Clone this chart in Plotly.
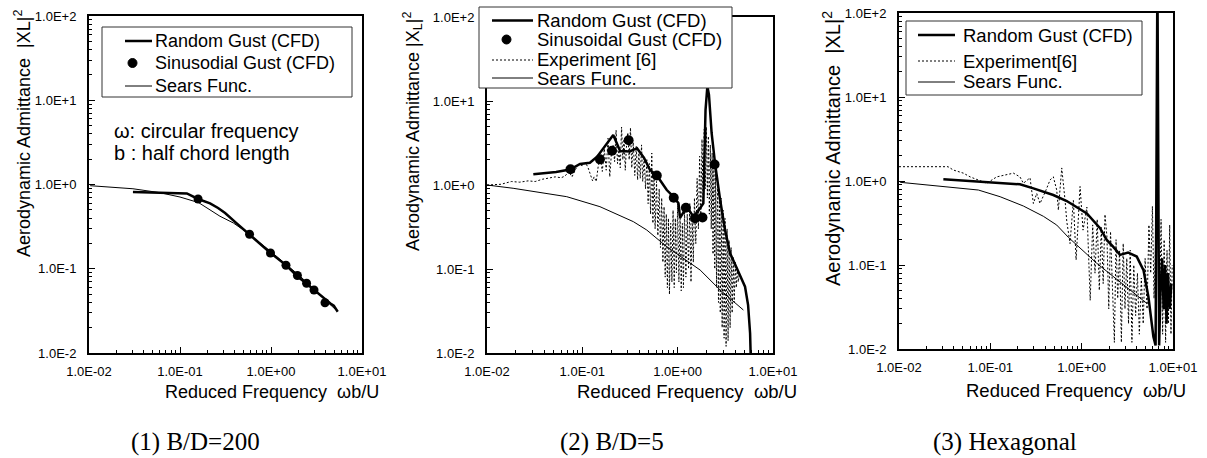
import plotly.graph_objects as go

W, H = 1207, 458

# ---------------- data ----------------
# Panel 1: B/D=200
p1_random_x = [0.0304, 0.0603, 0.119, 0.158, 0.214, 0.262, 0.313, 0.420, 0.573, 0.757, 0.975,
               1.48, 1.93, 2.43, 2.97, 3.73, 4.45, 4.60, 4.90, 5.10, 5.41]
p1_random_y = [0.815, 0.803, 0.782, 0.673, 0.598, 0.526, 0.459, 0.346, 0.258, 0.202, 0.156,
               0.109, 0.082, 0.0672, 0.056, 0.045, 0.0393, 0.038, 0.0365, 0.034, 0.0309]
p1_sinus_x = [0.158, 0.581, 0.987, 1.46, 1.95, 2.46, 2.97, 3.92]
p1_sinus_y = [0.673, 0.257, 0.154, 0.110, 0.0832, 0.0672, 0.056, 0.0395]
p1_sears_x = [0.0103, 0.0304, 0.060, 0.100, 0.160, 0.275, 0.385, 0.518, 0.975, 2.08, 5.3]
p1_sears_y = [0.968, 0.89, 0.80, 0.71, 0.61, 0.42, 0.35, 0.28, 0.163, 0.082, 0.0316]

# Panel 2: B/D=5
p2_random_x = [0.0306, 0.0530, 0.0743, 0.0946, 0.120, 0.143, 0.211, 0.249, 0.316, 0.375, 0.444,
               0.513, 0.604, 0.769, 0.902, 1.02, 1.06, 1.25, 1.46, 1.64, 1.86, 1.96, 2.05,
               2.13, 2.27, 2.47, 2.79, 3.14, 3.55, 4.00, 4.52, 5.09, 5.48, 5.75, 5.95]
p2_random_y = [1.34, 1.43, 1.53, 1.78, 1.84, 2.17, 3.94, 2.54, 2.51, 2.74, 2.10,
               1.51, 1.30, 0.871, 0.726, 0.605, 0.405, 0.552, 0.420, 0.490, 0.605, 7.8, 15.0,
               11.8, 4.16, 1.78, 0.663, 0.291, 0.154, 0.112, 0.081, 0.0615, 0.0372, 0.0172, 0.004]
p2_sinus_x = [0.0751, 0.153, 0.205, 0.306, 0.604, 0.910, 1.22, 1.52, 1.82, 2.44]
p2_sinus_y = [1.54, 2.02, 2.56, 3.41, 1.30, 0.706, 0.537, 0.402, 0.410, 1.75]
p2_exp_x = [0.010, 0.014, 0.018, 0.022, 0.027, 0.032, 0.038, 0.045, 0.052, 0.060, 0.066, 0.072,
            0.078, 0.085, 0.092, 0.100, 0.108, 0.115, 0.122, 0.128, 0.133, 0.140, 0.147, 0.155,
            0.162, 0.170, 0.178, 0.186, 0.194, 0.202, 0.210, 0.218, 0.226, 0.234, 0.242, 0.250,
            0.258, 0.266, 0.274, 0.282, 0.290, 0.300, 0.310, 0.320, 0.330, 0.342, 0.355, 0.368,
            0.380, 0.392, 0.405, 0.418, 0.430, 0.445, 0.460, 0.475, 0.490, 0.505, 0.520, 0.535,
            0.550, 0.565, 0.580, 0.600, 0.620, 0.640, 0.660, 0.680, 0.700, 0.720, 0.740, 0.760,
            0.780, 0.800, 0.820, 0.845, 0.870, 0.895, 0.920, 0.945, 0.970, 1.000, 1.03, 1.06,
            1.09, 1.12, 1.15, 1.18, 1.22, 1.26, 1.30, 1.34, 1.38, 1.42, 1.46, 1.50, 1.55, 1.60,
            1.65, 1.70, 1.75, 1.80, 1.85, 1.90, 1.95, 2.00, 2.05, 2.10, 2.15, 2.20, 2.25, 2.30,
            2.35, 2.40, 2.45, 2.50, 2.56, 2.62, 2.68, 2.74, 2.80, 2.86, 2.93, 3.00, 3.07, 3.14,
            3.22, 3.30, 3.38, 3.46, 3.55, 3.64, 3.73, 3.82, 3.92, 4.02, 4.12, 4.22, 4.32, 4.45]
p2_exp_y = [1.00, 1.02, 1.10, 1.08, 1.12, 1.10, 1.17, 1.22, 1.25, 1.22, 1.28, 1.45,
            1.25, 1.55, 1.75, 1.70, 1.85, 1.60, 1.30, 1.12, 1.25, 1.10, 1.70, 2.10,
            1.45, 2.70, 1.50, 3.60, 1.25, 2.40, 3.00, 1.90, 4.50, 1.80, 2.60, 1.60,
            4.90, 2.00, 3.50, 1.50, 2.80, 4.20, 2.00, 4.80, 1.60, 3.20, 1.30, 2.90,
            1.15, 2.40, 1.20, 3.00, 1.10, 2.20, 0.90, 2.00, 0.60, 1.80, 0.45, 2.40,
            0.35, 1.40, 0.30, 1.10, 0.25, 0.90, 0.18, 0.70, 0.12, 0.55, 0.08, 0.45,
            0.06, 0.40, 0.05, 0.35, 0.07, 0.50, 0.06, 0.40, 0.09, 0.60, 0.07, 0.45,
            0.055, 0.35, 0.06, 0.50, 0.08, 0.45, 0.10, 0.60, 0.07, 0.40, 0.12, 0.70, 0.20, 1.20,
            0.30, 2.20, 0.40, 3.50, 0.60, 4.60, 0.90, 4.90, 0.70, 3.80, 0.45, 3.00, 0.30, 2.40,
            0.15, 2.00, 0.10, 1.60, 0.06, 1.20, 0.04, 0.90, 0.03, 0.70, 0.02, 0.50, 0.015, 0.40,
            0.012, 0.30, 0.014, 0.22, 0.02, 0.18, 0.03, 0.14, 0.04, 0.12, 0.06, 0.10, 0.07, 0.09]
p2_sears_x = [0.01, 0.0188, 0.0686, 0.153, 0.343, 0.474, 0.769, 1.72, 2.79, 4.89]
p2_sears_y = [1.0, 0.914, 0.726, 0.552, 0.366, 0.291, 0.184, 0.0973, 0.0562, 0.0325]

# Panel 3: Hexagonal
p3_random_x = [0.0306, 0.071, 0.128, 0.211, 0.296, 0.489, 0.687, 1.14, 1.59, 1.88, 2.22, 2.63,
               3.22, 4.01, 4.75, 5.38, 6.10, 6.45, 6.75, 7.05, 7.3, 7.6, 7.9, 8.2, 8.5, 8.8,
               9.2, 9.6]
p3_random_y = [1.05, 0.98, 0.933, 0.914, 0.818, 0.681, 0.578, 0.412, 0.274, 0.199, 0.164, 0.132,
               0.141, 0.126, 0.087, 0.042, 0.014, 0.011, 300.0, 0.011, 0.05, 0.12, 0.03, 0.10,
               0.02, 0.08, 0.03, 0.06]
p3_exp_x = [0.010, 0.020, 0.0344, 0.0394, 0.0507, 0.060, 0.0914, 0.1175, 0.150, 0.179, 0.211,
            0.230, 0.272, 0.296, 0.322, 0.350, 0.407, 0.451, 0.490, 0.533, 0.556, 0.605, 0.658,
            0.687, 0.746, 0.811, 0.869, 0.960, 1.035, 1.14, 1.24, 1.32, 1.40, 1.48, 1.56, 1.64,
            1.72, 1.80, 1.89, 1.98, 2.07, 2.17, 2.28, 2.38, 2.48, 2.60, 2.72, 2.85, 2.98, 3.12,
            3.26, 3.40, 3.55, 3.72, 3.90, 4.08, 4.28, 4.50, 4.72, 4.95, 5.20, 5.45, 5.70, 5.95,
            6.20, 6.50, 6.80, 7.10, 7.40, 7.70, 8.00, 8.30, 8.60, 8.90, 9.20, 9.50, 9.80]
p3_exp_y = [1.48, 1.48, 1.48, 1.35, 1.24, 1.12, 0.94, 1.12, 1.18, 1.24, 1.12,
            0.94, 1.09, 0.54, 0.71, 0.54, 0.78, 1.03, 1.12, 0.78, 0.45, 1.43, 0.59,
            0.33, 0.18, 0.59, 0.115, 0.86, 0.26, 0.49, 0.038, 0.30, 0.08, 0.35, 0.05, 0.28,
            0.06, 0.40, 0.22, 0.03, 0.25, 0.05, 0.012, 0.20, 0.04, 0.15, 0.012, 0.18, 0.03, 0.12,
            0.02, 0.15, 0.012, 0.10, 0.025, 0.08, 0.015, 0.07, 0.02, 0.12, 0.03, 0.30, 0.08, 0.50,
            0.04, 0.25, 0.60, 0.02, 0.35, 0.015, 0.20, 0.012, 0.15, 0.02, 0.30, 0.015, 0.10]
p3_sears_x = [0.0103, 0.0306, 0.074, 0.128, 0.230, 0.381, 0.533, 0.714, 1.46, 5.16]
p3_sears_y = [0.965, 0.855, 0.781, 0.65, 0.504, 0.38, 0.299, 0.214, 0.105, 0.035]

# tick label text (log-axis decades)
x_tick_alias = {"1.0e-2": "1.0E-02", "1.0e-1": "1.0E-01", "1.0e+0": "1.0E+00",
                "1.0e+1": "1.0E+01"}
y_tick_alias = {"1.0e-2": "1.0E-2", "1.0e-1": "1.0E-1", "1.0e+0": "1.0E+0",
                "1.0e+1": "1.0E+1", "1.0e+2": "1.0E+2"}

SANS = "Liberation Sans, Arial, sans-serif"
SERIF = "Liberation Serif, Times New Roman, serif"


def pxx(x):
    return x / W


def pyy(y):
    return 1 - y / H


def with_minus_variants(alias):
    out = dict(alias)
    for k, v in alias.items():
        out[k.replace("-", "\u2212")] = v
    return out


def axis(domain, anchor, rng, alias, standoff):
    return dict(type="log", range=rng, domain=domain, anchor=anchor, automargin=False,
                showgrid=False, zeroline=False, showline=True, linecolor="black",
                linewidth=2, mirror=True, ticks="inside", ticklen=6, tickwidth=1,
                tickcolor="black", tickmode="linear", tick0=0, dtick=1,
                layer="above traces", tickformat=".1e",
                labelalias=with_minus_variants(alias), ticklabelstandoff=standoff,
                tickfont=dict(family=SANS, size=13, color="black"),
                minor=dict(ticks="inside", ticklen=3, tickwidth=1, tickcolor="black",
                           dtick="D1", showgrid=False))


fig = go.Figure()

thick = dict(color="black", width=2.5)
thin = dict(color="black", width=1)
dotted = dict(color="black", width=1, dash="2px,2px")

# Panel 1
fig.add_trace(go.Scatter(x=p1_random_x, y=p1_random_y, mode="lines", line=thick,
                         name="Random Gust (CFD)", xaxis="x", yaxis="y"))
fig.add_trace(go.Scatter(x=p1_sinus_x, y=p1_sinus_y, mode="markers",
                         marker=dict(symbol="circle", size=9, color="black"),
                         name="Sinusodial Gust (CFD)", xaxis="x", yaxis="y"))
fig.add_trace(go.Scatter(x=p1_sears_x, y=p1_sears_y, mode="lines", line=thin,
                         name="Sears Func.", xaxis="x", yaxis="y"))

# Panel 2
fig.add_trace(go.Scatter(x=p2_random_x, y=p2_random_y, mode="lines", line=thick,
                         name="Random Gust (CFD)", xaxis="x2", yaxis="y2"))
fig.add_trace(go.Scatter(x=p2_sinus_x, y=p2_sinus_y, mode="markers",
                         marker=dict(symbol="circle", size=10, color="black"),
                         name="Sinusoidal Gust (CFD)", xaxis="x2", yaxis="y2"))
fig.add_trace(go.Scatter(x=p2_exp_x, y=p2_exp_y, mode="lines", line=dotted,
                         name="Experiment [6]", xaxis="x2", yaxis="y2"))
fig.add_trace(go.Scatter(x=p2_sears_x, y=p2_sears_y, mode="lines", line=thin,
                         name="Sears Func.", xaxis="x2", yaxis="y2"))

# Panel 3
fig.add_trace(go.Scatter(x=p3_random_x, y=p3_random_y, mode="lines", line=thick,
                         name="Random Gust (CFD)", xaxis="x3", yaxis="y3"))
fig.add_trace(go.Scatter(x=p3_exp_x, y=p3_exp_y, mode="lines", line=dotted,
                         name="Experiment[6]", xaxis="x3", yaxis="y3"))
fig.add_trace(go.Scatter(x=p3_sears_x, y=p3_sears_y, mode="lines", line=thin,
                         name="Sears Func.", xaxis="x3", yaxis="y3"))

# ---------- hand-built legend boxes (pixel layout) ----------
shapes = []
annotations = []


def legend_box(x0, y0, x1, y1, rows, text_x, sample_x0, sample_x1, size):
    shapes.append(dict(type="rect", xref="paper", yref="paper", layer="above",
                       x0=pxx(x0), x1=pxx(x1), y0=pyy(y1), y1=pyy(y0),
                       fillcolor="white", line=dict(color="#333333", width=1)))
    for kind, yc, label in rows:
        if kind == "marker":
            r = 4.5
            xm = (sample_x0 + sample_x1) / 2 - 6
            shapes.append(dict(type="circle", xref="paper", yref="paper", layer="above",
                               x0=pxx(xm - r), x1=pxx(xm + r), y0=pyy(yc + r), y1=pyy(yc - r),
                               fillcolor="black", line=dict(color="black", width=1)))
        else:
            style = {"thick": dict(color="black", width=2.5),
                     "thin": dict(color="black", width=1),
                     "dot": dict(color="black", width=1, dash="2px,2px")}[kind]
            shapes.append(dict(type="line", xref="paper", yref="paper", layer="above",
                               x0=pxx(sample_x0), x1=pxx(sample_x1), y0=pyy(yc), y1=pyy(yc),
                               line=style))
        annotations.append(dict(text=label, x=pxx(text_x), y=pyy(yc), xanchor="left",
                                font=dict(family=SANS, size=size, color="black")))


legend_box(102, 27, 352, 97,
           [("thick", 41, "Random Gust (CFD)"), ("marker", 63, "Sinusodial Gust (CFD)"),
            ("thin", 86, "Sears Func.")], 153, 125, 152, 18)
legend_box(479, 7, 732, 88,
           [("thick", 20.5, "Random Gust (CFD)"), ("marker", 39.5, "Sinusoidal Gust (CFD)"),
            ("dot", 60, "Experiment [6]"), ("thin", 78, "Sears Func.")], 535, 492, 533, 18.5)
legend_box(906, 21, 1142, 95,
           [("thick", 35, "Random Gust (CFD)"), ("dot", 61, "Experiment[6]"),
            ("thin", 82, "Sears Func.")], 961, 918, 955, 18.5)

annotations += [
    # y-axis titles
    dict(text="Aerodynamic Admittance  |XL|<sup>2</sup>", x=pxx(22), y=pyy(134),
         textangle=-90, font=dict(family=SANS, size=18, color="black")),
    dict(text="Aerodynamic Admittance |X<sub>L</sub>|<sup>2</sup>", x=pxx(412), y=pyy(131),
         textangle=-90, font=dict(family=SANS, size=18, color="black")),
    dict(text="Aerodynamic Admittance  |XL|<sup>2</sup>", x=pxx(831), y=pyy(149),
         textangle=-90, font=dict(family=SANS, size=20, color="black")),
    # x-axis titles
    dict(text="Reduced Frequency  ωb/U", x=pxx(381), y=pyy(392), xanchor="right",
         font=dict(family=SANS, size=18, color="black")),
    dict(text="Reduced Frequency  ωb/U", x=pxx(799), y=pyy(391), xanchor="right",
         font=dict(family=SANS, size=18.5, color="black")),
    dict(text="Reduced Frequency  ωb/U", x=pxx(1188), y=pyy(390), xanchor="right",
         font=dict(family=SANS, size=18.5, color="black")),
    # notes in panel 1
    dict(text="ω: circular frequency", x=pxx(112), y=pyy(130.5), xanchor="left",
         font=dict(family=SANS, size=20, color="black")),
    dict(text="b : half chord length", x=pxx(112), y=pyy(153), xanchor="left",
         font=dict(family=SANS, size=20, color="black")),
    # sub-captions
    dict(text="(1) B/D=200", x=pxx(195), y=pyy(442),
         font=dict(family=SERIF, size=25, color="black")),
    dict(text="(2) B/D=5", x=pxx(612), y=pyy(442),
         font=dict(family=SERIF, size=25, color="black")),
    dict(text="(3) Hexagonal", x=pxx(1005), y=pyy(442),
         font=dict(family=SERIF, size=25, color="black")),
]
for a in annotations:
    a.update(xref="paper", yref="paper", showarrow=False)
    a.setdefault("xanchor", "center")
    a.setdefault("yanchor", "middle")

fig.update_layout(
    width=W, height=H, margin=dict(l=0, r=0, t=0, b=0, pad=0, autoexpand=False),
    paper_bgcolor="white", plot_bgcolor="white", showlegend=False,
    font=dict(family=SANS, color="black"),
    xaxis=axis([pxx(89), pxx(362)], "y", [-2, 1], x_tick_alias, 5),
    yaxis=axis([pyy(353), pyy(16)], "x", [-2, 2], y_tick_alias, 8),
    xaxis2=axis([pxx(487), pxx(773)], "y2", [-2, 1], x_tick_alias, 5),
    yaxis2=axis([pyy(353), pyy(17)], "x2", [-2, 2], y_tick_alias, 8),
    xaxis3=axis([pxx(899), pxx(1173)], "y3", [-2, 1], x_tick_alias, 5),
    yaxis3=axis([pyy(349), pyy(13)], "x3", [-2, 2], y_tick_alias, 8),
    shapes=shapes,
    annotations=annotations,
)

fig.write_html("out.html", config={"displayModeBar": False},
               post_script="document.body.style.margin='0px';")
